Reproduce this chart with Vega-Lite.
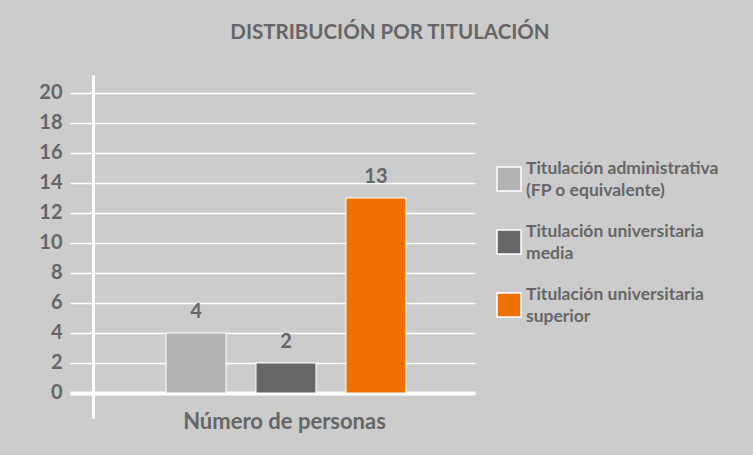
{
  "$schema": "https://vega.github.io/schema/vega-lite/v6.json",
  "autosize": {"type": "none"},
  "width": 382,
  "height": 343,
  "padding": {"left": 93, "top": 75, "right": 278, "bottom": 37},
  "background": "#cccccc",
  "title": {
    "text": "DISTRIBUCIÓN POR TITULACIÓN",
    "anchor": "middle",
    "dx": 106,
    "offset": 32,
    "font": "Lato",
    "fontSize": 20.5,
    "fontWeight": "bold",
    "color": "#666666"
  },
  "config": {
    "view": {"stroke": null},
    "font": "Lato"
  },
  "data": {
    "values": [
      {"serie": "Titulación administrativa (FP o equivalente)", "personas": 4},
      {"serie": "Titulación universitaria media", "personas": 2},
      {"serie": "Titulación universitaria superior", "personas": 13}
    ]
  },
  "encoding": {
    "x": {
      "field": "serie",
      "type": "nominal",
      "sort": null,
      "scale": {"paddingInner": 0.3333, "paddingOuter": 0.79, "align": 0.514},
      "axis": {
        "labels": false,
        "ticks": false,
        "domain": false,
        "grid": false,
        "title": "Número de personas",
        "titleFont": "Lato",
        "titleFontSize": 22,
        "titleFontWeight": "bold",
        "titleColor": "#666666",
        "titleBaseline": "alphabetic",
        "titleY": 10
      }
    },
    "y": {
      "field": "personas",
      "type": "quantitative",
      "scale": {"domain": [-1.667, 21.2], "nice": false, "zero": false},
      "axis": {
        "values": [0, 2, 4, 6, 8, 10, 12, 14, 16, 18, 20],
        "title": null,
        "domainColor": "#ffffff",
        "domainWidth": 3,
        "tickColor": "#ffffff",
        "tickSize": 23,
        "tickWidth": {"condition": {"test": "datum.value === 0", "value": 4}, "value": 1.5},
        "gridColor": "#ffffff",
        "gridWidth": {"condition": {"test": "datum.value === 0", "value": 4}, "value": 1.5},
        "labelFont": "Lato",
        "labelFontSize": 20,
        "labelFontWeight": "bold",
        "labelColor": "#666666",
        "labelPadding": 8
      }
    }
  },
  "layer": [
    {
      "mark": {"type": "bar", "stroke": "#ffffff", "strokeWidth": 1},
      "encoding": {
        "color": {
          "field": "serie",
          "type": "nominal",
          "sort": null,
          "scale": {
            "domain": ["Titulación administrativa (FP o equivalente)", "Titulación universitaria media", "Titulación universitaria superior"],
            "range": ["#b3b3b3", "#666666", "#ef7000"]
          },
          "legend": {
            "orient": "none",
            "legendX": 403,
            "legendY": 91,
            "title": null,
            "padding": 0,
            "symbolType": "square",
            "symbolSize": 576,
            "symbolStrokeColor": "#ffffff",
            "symbolStrokeWidth": 1.5,
            "symbolOpacity": 1,
            "labelFont": "Lato",
            "labelFontSize": 17.5,
            "labelFontWeight": "bold",
            "labelColor": "#666666",
            "labelOffset": 4,
            "labelLimit": 300,
            "rowPadding": 23,
            "labelExpr": "datum.label == 'Titulación administrativa (FP o equivalente)' ? ['Titulación administrativa', '(FP o equivalente)'] : datum.label == 'Titulación universitaria media' ? ['Titulación universitaria', 'media'] : ['Titulación universitaria', 'superior']",
            "encode": {"labels": {"update": {"lineHeight": {"value": 22}, "dy": {"value": -10}}}}
          }
        }
      }
    },
    {
      "mark": {
        "type": "text",
        "baseline": "bottom",
        "dy": -11,
        "font": "Lato",
        "fontSize": 20,
        "fontWeight": "bold",
        "color": "#666666"
      },
      "encoding": {
        "text": {"field": "personas", "type": "quantitative"}
      }
    }
  ]
}
